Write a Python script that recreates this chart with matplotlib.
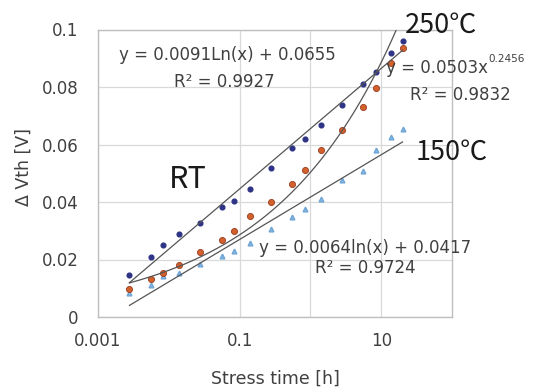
import numpy as np
import matplotlib
matplotlib.use("Agg")
from matplotlib import pyplot as plt

plt.rcParams['font.family'] = ['DejaVu Sans', 'Noto Sans CJK JP']

# Stress time [h] (shared by all three series)
stress_h = [0.00278, 0.00556, 0.00833, 0.0139, 0.0278, 0.0556, 0.0833, 0.139,
            0.278, 0.556, 0.833, 1.39, 2.78, 5.56, 8.33, 13.9, 20.0]

# Delta Vth [V]
vth_rt = [0.0145, 0.0207, 0.0249, 0.0288, 0.0327, 0.0384, 0.0405, 0.0446,
          0.0517, 0.0589, 0.0618, 0.0668, 0.0737, 0.0810, 0.0853, 0.0920, 0.0961]
vth_250 = [0.0096, 0.0133, 0.0154, 0.0181, 0.0227, 0.0268, 0.0298, 0.0350,
           0.0400, 0.0462, 0.0510, 0.0581, 0.0650, 0.0729, 0.0796, 0.0884, 0.0937]
vth_150 = [0.0084, 0.0111, 0.0142, 0.0153, 0.0186, 0.0211, 0.0231, 0.0258,
           0.0305, 0.0347, 0.0377, 0.0412, 0.0477, 0.0507, 0.0580, 0.0627, 0.0653]

# trendline coefficients as printed on the chart
rt_fit = (0.0091, 0.0655)      # a*ln(x) + b
fit_150 = (0.0064, 0.0417)     # a*ln(x) + b
fit_250 = (0.0503, 0.2456)     # a*x^b

fig = plt.figure(figsize=(5.39, 3.9), dpi=100)
ax = fig.add_axes([98/539, 1-317/390, (452-98)/539, (317-29.5)/390])

xs = np.geomspace(stress_h[0], stress_h[-1], 200)
line_c = '#555555'
ax.plot(xs, rt_fit[0]*np.log(xs) + rt_fit[1], color=line_c, lw=0.9, zorder=3)
ax.plot(xs, fit_150[0]*np.log(xs) + fit_150[1], color=line_c, lw=0.9, zorder=3)
ax.plot(xs, fit_250[0]*xs**fit_250[1], color=line_c, lw=0.9, zorder=3)

ax.plot(stress_h, vth_150, ls='none', marker='^', ms=3.4, color='#86b8e4',
        mec='#6fa5d6', zorder=2)
ax.plot(stress_h, vth_250, ls='none', marker='o', ms=4.4, color='#d2612e',
        mec='#9a3a1c', mew=0.6, zorder=2)
ax.plot(stress_h, vth_rt, ls='none', marker='o', ms=3.4, color='#2e3386',
        zorder=2)

ax.set_xscale('log')
ax.set_xlim(0.001, 100)
ax.set_ylim(0, 0.1)
ax.set_xticks([0.001, 0.1, 10])
ax.set_xticklabels(['0.001', '0.1', '10'])
ax.set_xticks([1], minor=True)
ax.set_xticklabels([''], minor=True)
ax.set_yticks([0, 0.02, 0.04, 0.06, 0.08, 0.1])
ax.set_yticklabels(['0', '0.02', '0.04', '0.06', '0.08', '0.1'])
ax.tick_params(which='both', length=0, labelsize=12, colors='#404040')
ax.tick_params(axis='y', pad=14)
ax.tick_params(axis='x', pad=11)
ax.grid(True, which='both', color='#d9d9d9', lw=0.9)
ax.set_axisbelow(True)
for s in ax.spines.values():
    s.set_color('#bfbfbf')
    s.set_linewidth(1.0)

ax.set_ylabel('Δ Vth [V]', fontsize=12.5, color='#404040')
ax.yaxis.set_label_coords(-0.184, 0.52)
ax.set_xlabel('Stress time [h]', fontsize=12.5, color='#404040')
ax.xaxis.set_label_coords(0.5, -0.185)

eq_c = '#404040'
fig.text(227/539, 1-55/390, 'y = 0.0091Ln(x) + 0.0655', fontsize=12,
         color=eq_c, ha='center', va='center')
fig.text(224/539, 1-82/390, 'R² = 0.9927', fontsize=12, color=eq_c,
         ha='center', va='center')
t = fig.text(386/539, 1-68/390, 'y = 0.0503x', fontsize=12, color=eq_c,
             ha='left', va='center')
ax.annotate('0.2456', xy=(1, 0.72), xycoords=t, fontsize=7.5, color=eq_c,
            ha='left', va='bottom')
fig.text(460/539, 1-95/390, 'R² = 0.9832', fontsize=12, color=eq_c,
         ha='center', va='center')
fig.text(365/539, 1-248/390, 'y = 0.0064ln(x) + 0.0417', fontsize=12,
         color=eq_c, ha='center', va='center')
fig.text(365/539, 1-268/390, 'R² = 0.9724', fontsize=12, color=eq_c,
         ha='center', va='center')

cjk = ['Noto Sans CJK JP', 'DejaVu Sans']
fig.text(405/539, 1-25/390, '250℃', fontsize=19.5, color='#1a1a1a',
         ha='left', va='center', family=cjk)
fig.text(416/539, 1-152/390, '150℃', fontsize=19.5, color='#1a1a1a',
         ha='left', va='center', family=cjk)
fig.text(188/539, 1-180/390, 'RT', fontsize=22, color='#1a1a1a',
         ha='center', va='center', family=cjk)

fig.savefig('out.png', dpi=100)
